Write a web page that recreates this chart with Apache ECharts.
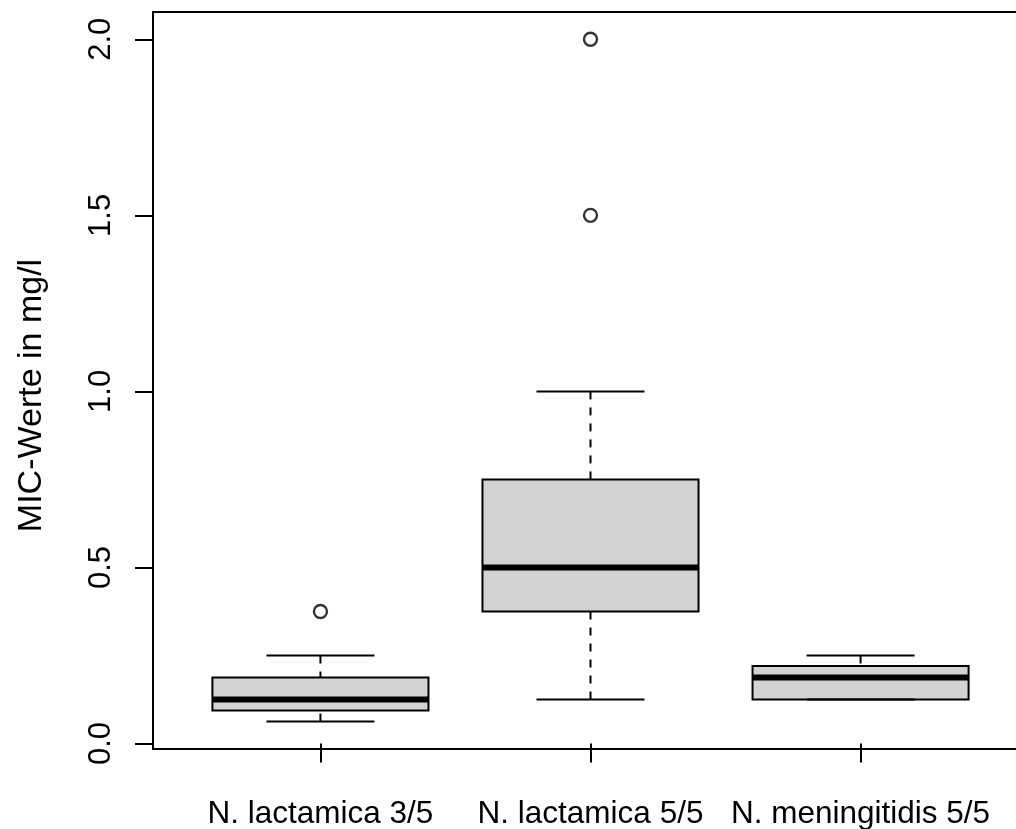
<!DOCTYPE html>
<html>
<head>
<meta charset="utf-8">
<script src="https://cdn.jsdelivr.net/npm/echarts@6/dist/echarts.min.js"></script>
<style>
html,body{margin:0;padding:0;background:#fff;}
#chart{width:1016px;height:829px;}
</style>
</head>
<body>
<div id="chart"></div>
<script>
// ---- data ----
const categories = ['N. lactamica 3/5', 'N. lactamica 5/5', 'N. meningitidis 5/5'];
const whiskerLow  = [0.0625, 0.125, 0.125];
const quartile1   = [0.094, 0.375, 0.125];
const medians     = [0.125, 0.5, 0.1875];
const quartile3   = [0.1875, 0.75, 0.22];
const whiskerHigh = [0.25, 1.0, 0.25];
const outlierGroup = [1, 2, 2];
const outlierValue = [0.375, 1.5, 2.0];
const yTicks = [0, 0.5, 1.0, 1.5, 2.0];
const xTicks = [1, 2, 3];

const boxData = categories.map((c, i) => [i + 1, whiskerLow[i], quartile1[i], medians[i], quartile3[i], whiskerHigh[i]]);
const outlierData = outlierGroup.map((g, i) => [g, outlierValue[i]]);

const FONT = "'Liberation Sans', Arial, Helvetica, sans-serif";
const chart = echarts.init(document.getElementById('chart'), null, {renderer: 'canvas'});

chart.setOption({
  animation: false,
  backgroundColor: '#ffffff',
  grid: {
    left: 153, top: 12, width: 875, height: 737,
    outerBoundsMode: 'none', containLabel: false,
    show: true, borderColor: '#000', borderWidth: 2, backgroundColor: 'transparent'
  },
  xAxis: {
    type: 'value', min: 0.38, max: 3.62,
    splitLine: {show: false},
    axisLine: {show: false},
    axisTick: {show: true, customValues: xTicks, length: 19, lineStyle: {color: '#000', width: 2}},
    axisLabel: {
      customValues: xTicks, margin: 49, fontSize: 31.5, color: '#000', fontFamily: FONT,
      formatter: v => categories[Math.round(v) - 1]
    }
  },
  yAxis: {
    type: 'value', min: -0.0155, max: 2.0775,
    splitLine: {show: false},
    axisLine: {show: false},
    axisTick: {show: true, customValues: yTicks, length: 18, lineStyle: {color: '#000', width: 2}},
    axisLabel: {
      customValues: yTicks, rotate: 90, margin: 36, fontSize: 31, color: '#000', fontFamily: FONT,
      formatter: v => v.toFixed(1)
    },
    name: 'MIC-Werte in mg/l', nameLocation: 'middle', nameRotate: 90, nameGap: 104,
    nameTextStyle: {fontSize: 34, color: '#000', fontFamily: FONT, padding: [0, 30, 0, 0]}
  },
  series: [
    {
      type: 'custom',
      data: boxData,
      encode: {x: 0, y: [1, 2, 3, 4, 5]},
      renderItem: function (params, api) {
        const x = api.value(0);
        const lo = api.coord([x, api.value(1)]);
        const q1 = api.coord([x, api.value(2)]);
        const md = api.coord([x, api.value(3)]);
        const q3 = api.coord([x, api.value(4)]);
        const hi = api.coord([x, api.value(5)]);
        const halfBox = api.size([0.4, 0])[0];
        const halfCap = api.size([0.2, 0])[0];
        const cx = lo[0];
        const stroke = {stroke: '#000', lineWidth: 2, fill: null};
        const dashed = {stroke: '#000', lineWidth: 2, lineDash: [8, 8], fill: null};
        return {
          type: 'group',
          children: [
            {type: 'rect', shape: {x: cx - halfBox, y: q3[1], width: 2 * halfBox, height: q1[1] - q3[1]},
              style: {fill: '#d3d3d3', stroke: null}},
            {type: 'line', shape: {x1: cx - halfBox, y1: md[1], x2: cx + halfBox, y2: md[1]},
              style: {stroke: '#000', lineWidth: 6}},
            {type: 'line', shape: {x1: cx, y1: lo[1], x2: cx, y2: q1[1]}, style: dashed},
            {type: 'line', shape: {x1: cx, y1: hi[1], x2: cx, y2: q3[1]}, style: dashed},
            {type: 'line', shape: {x1: cx - halfCap, y1: lo[1], x2: cx + halfCap, y2: lo[1]}, style: stroke},
            {type: 'line', shape: {x1: cx - halfCap, y1: hi[1], x2: cx + halfCap, y2: hi[1]}, style: stroke},
            {type: 'rect', shape: {x: cx - halfBox, y: q3[1], width: 2 * halfBox, height: q1[1] - q3[1]},
              style: stroke}
          ]
        };
      }
    },
    {
      type: 'scatter',
      data: outlierData,
      symbol: 'circle',
      symbolSize: 13,
      itemStyle: {color: 'rgba(0,0,0,0)', borderColor: '#000', borderWidth: 2.4},
      emphasis: {disabled: true}
    }
  ]
});
</script>
</body>
</html>
